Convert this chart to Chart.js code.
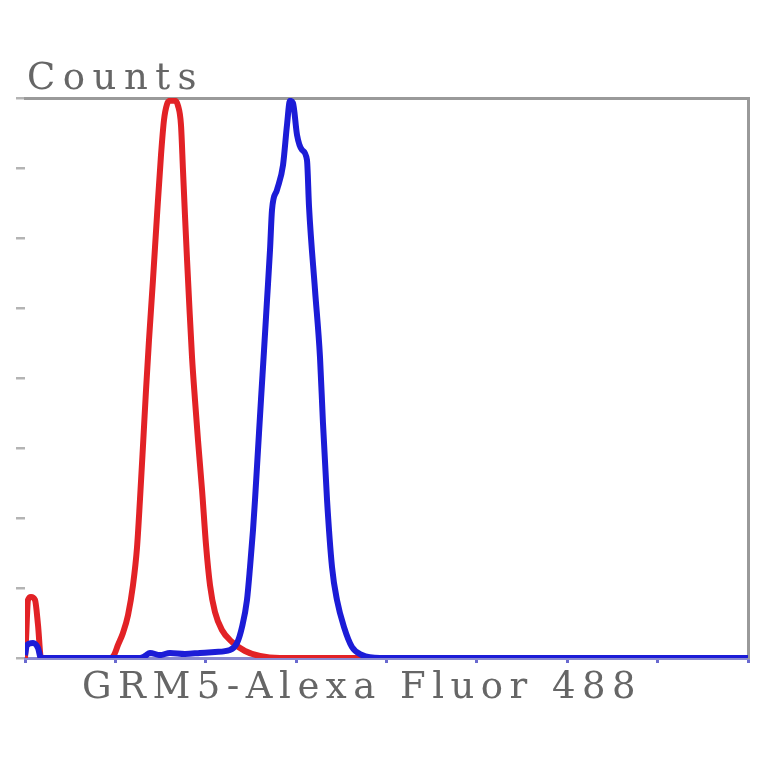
<!DOCTYPE html>
<html>
<head>
<meta charset="utf-8">
<script src="https://cdn.jsdelivr.net/npm/chart.js@4"></script>
<style>
  html, body { margin: 0; padding: 0; background: #fff; }
  canvas { display: block; }
</style>
</head>
<body>
<canvas id="chart" width="764" height="764"></canvas>
<script>
"use strict";

// Histogram: x = channel (0..800), y = counts (0..400)

// isotype control (red)
var _red_x = [0, 1.1, 3.3, 6.6, 11.1, 14.4, 17.7,
  94.1, 98.5, 102.9, 108.4, 114.0, 119.5, 123.9, 127.2, 130.6, 133.9, 137.2, 141.6, 146.1, 150.5,
  153.8, 157.1, 160.4, 166.0, 169.3, 172.6, 174.8, 177.0, 179.3, 181.5, 184.8, 188.1, 191.4,
  195.9, 200.3, 204.7, 210.2, 217.9, 229.1, 243.4, 260.0, 282.2, 800];
var _red_y = [0, 12.9, 41.4, 43.6, 41.4, 23.6, 0,
  0, 2.1, 9.3, 17.9, 30.7, 52.1, 78.6, 112.9, 152.1, 191.4, 227.1, 270.0, 316.4, 359.3,
  384.3, 395.5, 398, 398, 394.5, 380.7, 348.6, 316.4, 284.3, 255.7, 215.0, 184.3, 155.7,
  120.0, 80.7, 52.1, 32.9, 20.0, 11.4, 5.0, 1.4, 0, 0];

// GRM5 stained sample (blue)
var _blue_x = [0, 2.2, 8.9, 14.4, 17.7,
  127.2, 132.8, 138.3, 149.4, 160.4, 177.0, 193.6, 210.2, 226.8, 234.6, 240.1, 245.6, 249.0,
  252.3, 254.5, 257.8, 261.1, 264.5, 267.8, 271.1, 273.3, 278.8, 285.5, 289.9, 293.2, 296.5,
  301.0, 306.5, 312.0, 314.3, 320.9, 326.4, 329.7, 334.2, 339.7, 345.2, 353.0, 361.8, 372.9, 392.8, 800];
var _blue_y = [2, 9.3, 10.7, 7.1, 0,
  0, 1.4, 3.6, 2.1, 3.6, 2.9, 3.6, 4.3, 5.7, 10.7, 22.1, 41.4, 65.0,
  91.4, 112.9, 148.6, 184.3, 220.0, 255.7, 291.4, 320.0, 334.3, 352.1, 380.7, 398, 396.4,
  373.6, 362.9, 355.7, 322.1, 262.9, 215.0, 167.9, 112.9, 65.0, 41.4, 22.1, 7.9, 2.1, 0, 0];

var _y_title = 'Counts';
var _x_title = 'GRM5-Alexa Fluor 488';


function _points(_xs, _ys) {
  return _xs.map(function(_x, _i) { return {x: _x, y: _ys[_i]}; });
}

// axis captions, spaced out like the typewriter font of the original
var _captions = {
  id: 'captions',
  afterDraw: function(_chart) {
    var _ctx = _chart.ctx;
    var _area = _chart.chartArea;
    _ctx.save();
    _ctx.fillStyle = '#666666';
    _ctx.font = '37px "DejaVu Serif"';
    _ctx.textAlign = 'left';
    _ctx.textBaseline = 'alphabetic';
    _ctx.letterSpacing = '7.5px';
    _ctx.fillText(_y_title, _area.left + 2, _area.top - 9);
    _ctx.letterSpacing = '6.5px';
    _ctx.fillText(_x_title, _area.left + 57, _area.bottom + 40);
    _ctx.restore();
  }
};

var _frame = { display: false };

new Chart(document.getElementById('chart'), {
  type: 'line',
  data: {
    datasets: [
      {
        label: 'GRM5',
        data: _points(_blue_x, _blue_y),
        borderColor: 'rgb(28,28,215)',
        borderWidth: 6,
        order: 1
      },
      {
        label: 'Isotype',
        data: _points(_red_x, _red_y),
        borderColor: 'rgb(226,34,38)',
        borderWidth: 6,
        order: 2
      }
    ]
  },
  options: {
    responsive: false,
    animation: false,
    parsing: false,
    layout: { padding: 0 },
    elements: {
      point: { radius: 0 },
      line: { cubicInterpolationMode: 'monotone', fill: false, borderJoinStyle: 'round' }
    },
    plugins: {
      legend: { display: false },
      tooltip: { enabled: false },
      title: { display: false }
    },
    scales: {
      x: {
        type: 'linear', position: 'bottom', min: 0, max: 800,
        ticks: { display: false, stepSize: 100 },
        grid: { drawOnChartArea: false, tickLength: 5, color: '#6a6ad0', lineWidth: 3 },
        border: { color: '#8a8ad0', width: 3 },
        afterFit: function(_s) { _s.height = 106; }
      },
      y: {
        type: 'linear', position: 'left', min: 0, max: 400,
        ticks: { display: false, stepSize: 50 },
        grid: { drawOnChartArea: false, tickLength: 9, color: '#b4b4b4', lineWidth: 2.5 },
        border: { display: false },
        afterFit: function(_s) { _s.width = 25; }
      },
      xTop: {
        type: 'linear', position: 'top', min: 0, max: 800,
        ticks: { display: false }, grid: _frame,
        border: { color: '#9a9a9a', width: 3 },
        afterFit: function(_s) { _s.height = 98; }
      },
      yRight: {
        type: 'linear', position: 'right', min: 0, max: 400,
        ticks: { display: false }, grid: _frame,
        border: { color: '#9a9a9a', width: 3 },
        afterFit: function(_s) { _s.width = 16; }
      }
    }
  },
  plugins: [_captions]
});
</script>
</body>
</html>
